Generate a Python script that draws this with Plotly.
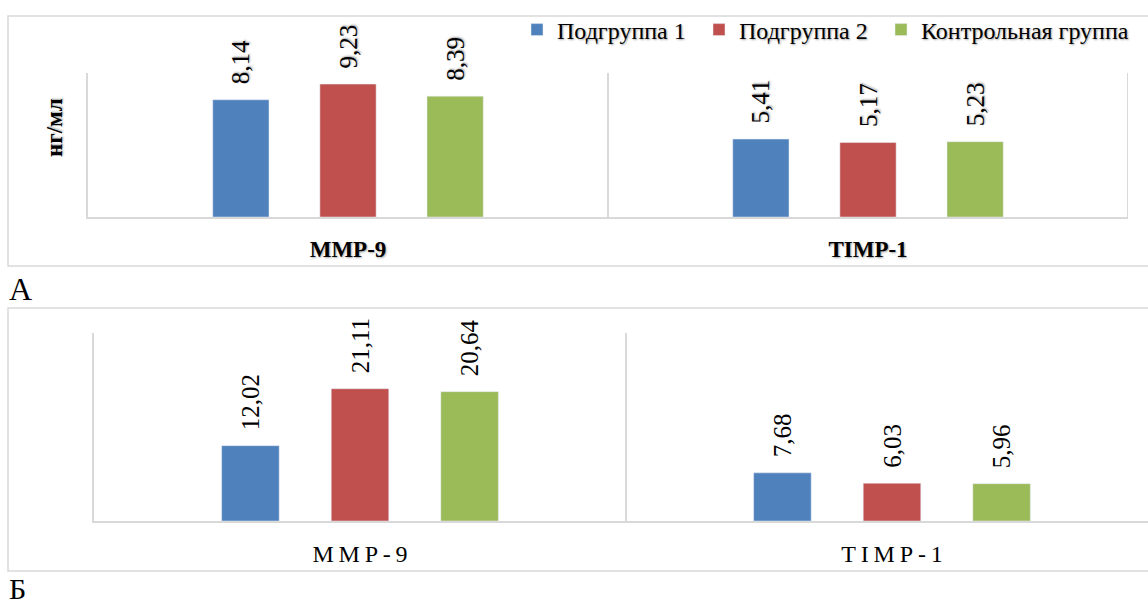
import plotly.graph_objects as go

# ---- data ----
categories = ["MMP-9", "TIMP-1"]
categories_spaced = ["M\u2009M\u2009P\u2009-\u20099", "T\u2009I\u2009M\u2009P\u2009-\u20091"]
groups = ["Подгруппа 1", "Подгруппа 2", "Контрольная группа"]
colors = ["#4F81BD", "#C0504D", "#9BBB59"]
panel_a_g1 = [8.14, 5.41]
panel_a_g2 = [9.23, 5.17]
panel_a_ctrl = [8.39, 5.23]
panel_b_g1 = [12.02, 7.68]
panel_b_g2 = [21.11, 6.03]
panel_b_ctrl = [20.64, 5.96]
y_title = "нг/мл"
panel_labels = ["А", "Б"]

W, H = 1148, 604
FONT = "'Liberation Serif', 'Times New Roman', Times, serif"
GRID = "#d9d9d9"
SHADOW = "1px 1px 2px rgba(0,0,0,0.35)"


def px(x):
    return x / W


def py(y):
    return 1 - y / H


fig = go.Figure()
panel_a = [panel_a_g1, panel_a_g2, panel_a_ctrl]
panel_b = [panel_b_g1, panel_b_g2, panel_b_ctrl]
legends = ["legend", "legend2", "legend3"]

for i, name in enumerate(groups):
    fig.add_trace(go.Bar(
        x=categories, y=panel_a[i], name=name, marker_color=colors[i],
        xaxis="x", yaxis="y", legend=legends[i], showlegend=True,
        texttemplate="\u00a0\u00a0%{y:.2f}", textposition="outside", textangle=-90,
        textfont=dict(family=FONT, size=25, color="black", shadow=SHADOW),
        cliponaxis=False, constraintext="none", hoverinfo="skip",
    ))
for i, name in enumerate(groups):
    fig.add_trace(go.Bar(
        x=categories, y=panel_b[i], name=name, marker_color=colors[i],
        xaxis="x2", yaxis="y2", showlegend=False,
        texttemplate="\u00a0\u00a0%{y:.2f}", textposition="outside", textangle=-90,
        textfont=dict(family=FONT, size=25, color="black"),
        cliponaxis=False, constraintext="none", hoverinfo="skip",
    ))

axis_common = dict(showgrid=True, gridcolor=GRID, gridwidth=2, tickson="boundaries",
                   ticks="", showline=True, linecolor=GRID, linewidth=2, zeroline=False,
                   fixedrange=True)
yaxis_common = dict(showgrid=False, showticklabels=False, ticks="", showline=True,
                    linecolor=GRID, linewidth=2, zeroline=False, fixedrange=True)

legend_common = dict(orientation="h", xanchor="left", yanchor="middle",
                     font=dict(family=FONT, size=24, color="black", shadow=SHADOW),
                     bgcolor="rgba(0,0,0,0)", itemclick=False, itemdoubleclick=False)

fig.update_layout(
    width=W, height=H, margin=dict(l=0, r=0, t=0, b=0),
    paper_bgcolor="white", plot_bgcolor="white",
    barmode="group", bargap=0.382, bargroupgap=0.475,
    separators=", ",
    font=dict(family=FONT, color="black"),
    xaxis=dict(domain=[px(88), px(1128)], range=[-0.5, 1.5], anchor="y",
               tickfont=dict(family=FONT, size=23, color="black", weight="bold", shadow=SHADOW),
               ticklabelstandoff=10, **axis_common),
    yaxis=dict(domain=[py(217), py(73)], range=[0, 10], anchor="x", **yaxis_common),
    xaxis2=dict(domain=[px(94), 1.0], range=[-0.5, -0.5 + 1054 / 532], anchor="y2",
                tickvals=categories, ticktext=categories_spaced,
                tickfont=dict(family=FONT, size=24, color="black"),
                ticklabelstandoff=10, **axis_common),
    yaxis2=dict(domain=[py(521), py(333)], range=[0, 30], anchor="x2", **yaxis_common),
    legend=dict(x=px(517), y=py(30), **legend_common),
    legend2=dict(x=px(699), y=py(30), **legend_common),
    legend3=dict(x=px(881), y=py(30), **legend_common),
    shapes=[
        dict(type="rect", xref="paper", yref="paper", x0=px(8), x1=1.05, y0=py(266), y1=py(16),
             line=dict(color=GRID, width=1.5), layer="below"),
        dict(type="rect", xref="paper", yref="paper", x0=px(8), x1=1.05, y0=py(571), y1=py(308),
             line=dict(color=GRID, width=1.5), layer="below"),
        dict(type="line", xref="x", yref="y domain", x0=1.5, x1=1.5, y0=0, y1=1,
             line=dict(color=GRID, width=2), layer="below"),
    ],
    annotations=[
        dict(text=y_title, xref="paper", yref="paper", x=px(55), y=py(128), textangle=-90,
             xanchor="center", yanchor="middle", showarrow=False,
             font=dict(family=FONT, size=23, color="black", weight="bold", shadow=SHADOW)),
        dict(text=panel_labels[0], xref="paper", yref="paper", x=px(7), y=py(289), xanchor="left",
             yanchor="middle", showarrow=False, font=dict(family=FONT, size=32, color="black")),
        dict(text=panel_labels[1], xref="paper", yref="paper", x=px(7), y=py(588), xanchor="left",
             yanchor="middle", showarrow=False, font=dict(family=FONT, size=30, color="black")),
    ],
)

fig.write_html("out.html", config={"displayModeBar": False},
               post_script="document.body.style.margin='0';document.body.style.overflow='hidden';")
